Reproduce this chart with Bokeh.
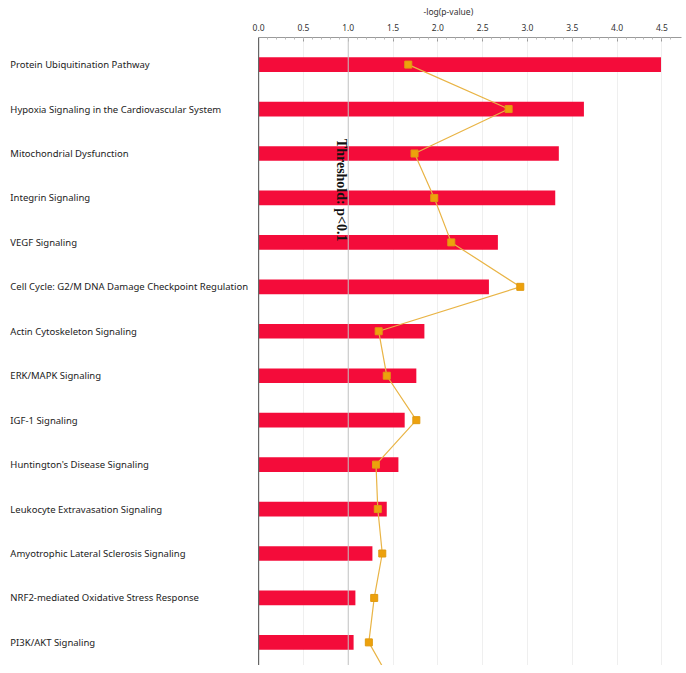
from bokeh.plotting import figure
from bokeh.models import Range1d, FixedTicker, Span, Label, NumeralTickFormatter
from bokeh.core.properties import value
from bokeh.embed import file_html
from bokeh.resources import INLINE

pathways = [
    "Protein Ubiquitination Pathway",
    "Hypoxia Signaling in the Cardiovascular System",
    "Mitochondrial Dysfunction",
    "Integrin Signaling",
    "VEGF Signaling",
    "Cell Cycle: G2/M DNA Damage Checkpoint Regulation",
    "Actin Cytoskeleton Signaling",
    "ERK/MAPK Signaling",
    "IGF-1 Signaling",
    "Huntington's Disease Signaling",
    "Leukocyte Extravasation Signaling",
    "Amyotrophic Lateral Sclerosis Signaling",
    "NRF2-mediated Oxidative Stress Response",
    "PI3K/AKT Signaling",
]
neg_log_p = [4.49, 3.63, 3.35, 3.31, 2.67, 2.57, 1.85, 1.76, 1.63, 1.56, 1.43, 1.27, 1.08, 1.06]
# ratio series drawn on the -log(p) scale (its own axis is cropped off the picture)
ratio = [1.67, 2.79, 1.74, 1.96, 2.15, 2.92, 1.34, 1.43, 1.76, 1.31, 1.33, 1.38, 1.29, 1.23, 1.51]
x_ticks = [0.0, 0.5, 1.0, 1.5, 2.0, 2.5, 3.0, 3.5, 4.0, 4.5]
threshold = 1.0

font = "Noto Sans"
p = figure(width=682, height=665, output_backend="svg", toolbar_location=None,
           x_axis_location="above",
           x_range=Range1d(-2.88, 4.73), y_range=Range1d(13.52, -0.61),
           min_border_left=0, min_border_right=0, min_border_bottom=0, min_border_top=0,
           title="-log(p-value)")
p.outline_line_color = None
p.yaxis.visible = False
p.ygrid.visible = False

p.title.align = "left"
p.title.offset = 423
p.title.text_font = font
p.title.text_font_size = "8.5px"
p.title.text_font_style = "normal"
p.title.text_color = "#333333"
p.title.standoff = 7

ax = p.xaxis[0]
ax.ticker = FixedTicker(ticks=x_ticks, minor_ticks=[t / 10 for t in range(0, 47)])
ax.formatter = NumeralTickFormatter(format="0.0")
ax.bounds = (0, 4.72)
ax.major_label_text_font = font
ax.major_label_text_font_size = "8.5px"
ax.major_label_text_color = "#333333"
ax.major_label_standoff = 7
ax.major_tick_in = 4
ax.major_tick_out = 0
ax.minor_tick_in = 2
ax.minor_tick_out = 0
ax.axis_line_color = "#9a9a9a"
ax.major_tick_line_color = "#9a9a9a"
ax.minor_tick_line_color = "#bbbbbb"

p.xgrid.ticker = FixedTicker(ticks=x_ticks)
p.xgrid.grid_line_color = "#efefef"

idx = list(range(len(pathways)))
p.hbar(y=idx, left=0, right=neg_log_p, height=0.33, fill_color="#f40c3a", line_color=None)

p.add_layout(Span(location=threshold, dimension="height", line_color="#c4c4c4", line_width=1))
p.add_layout(Span(location=0, dimension="height", line_color="#666666", line_width=1.2))

ridx = list(range(len(ratio)))
p.line(ratio, ridx, line_color="#e9b445", line_width=1.2)
p.scatter(ratio, ridx, marker="square", size=7, fill_color="#eda10c", line_color="#e09a10")

p.text(x=[-2.77] * len(pathways), y=idx, text=pathways, text_align="left", text_baseline="middle",
       text_font=value(font), text_font_size="9.5px", text_color="#222222")

p.add_layout(Label(x=threshold - 0.08, y=1.67, text="Threshold: p<0.1", angle=-1.5708,
                   text_align="left", text_baseline="middle", text_font="Liberation Serif",
                   text_font_size="14px", text_font_style="bold", text_color="#111111"))
p.add_layout(Label(x=threshold + 0.02, y=-0.72, text="Threshold", text_align="left",
                   text_baseline="middle", text_font=font, text_font_size="7px",
                   text_color="#e2c050", level="overlay"))

open("out.html", "w").write(file_html(p, INLINE))
